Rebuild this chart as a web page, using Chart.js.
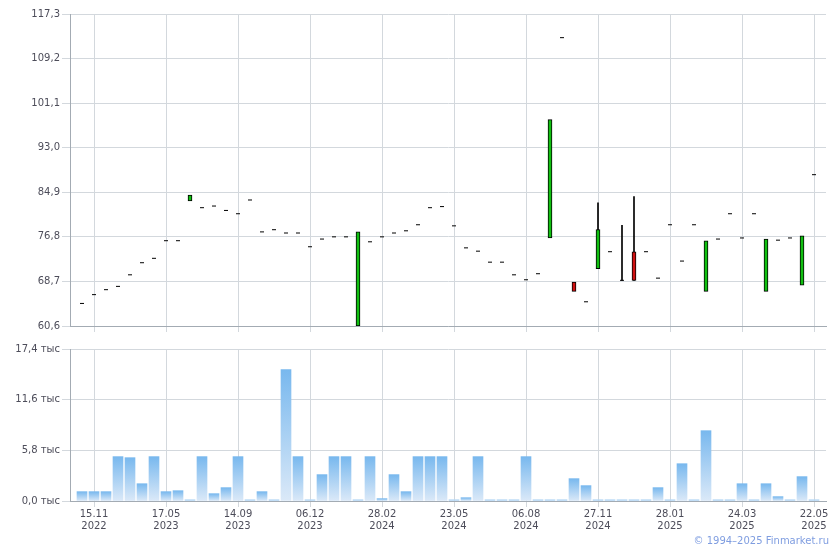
<!DOCTYPE html>
<html>
<head>
<meta charset="utf-8">
<script src="https://cdn.jsdelivr.net/npm/chart.js@4.4.1/dist/chart.umd.min.js"></script>
<style>
  body { margin: 0; background: #fff; }
  #wrap { position: relative; width: 840px; height: 550px; }
  #price { position: absolute; left: 0; top: 0; }
  #vol { position: absolute; left: 0; top: 340px; }
  #copy { position: absolute; right: 11px; top: 535px; font: 10px "DejaVu Sans", sans-serif; color: #7f9de0; }
</style>
</head>
<body>
<div id="wrap">
  <canvas id="price" width="840" height="340"></canvas>
  <canvas id="vol" width="840" height="210"></canvas>
  <div id="copy">© 1994–2025 Finmarket.ru</div>
</div>
<script>
// one entry per period, index 0..61
const opens  = [64.7, 66.3, 67.2, 67.8, 69.9, 72.1, 72.9, 76.1, 76.1, 83.35,
                82.1, 82.4, 81.6, 81.0, 83.5, 77.7, 78.1, 77.5, 77.5, 75.0,
                76.4, 76.8, 76.8, 60.6, 75.9, 76.8, 77.5, 77.9, 79.0, 82.1,
                82.3, 78.8, 74.8, 74.2, 72.2, 72.2, 69.9, 69.0, 70.1, 76.6,
                113.0, 68.6, 65.0, 71.0, 74.1, 68.9, 74.1, 74.1, 69.3, 79.0,
                72.4, 79.0, 66.9, 76.4, 81.0, 76.6, 81.0, 66.9, 76.2, 76.6,
                68.0, 88.1];
const highs  = [64.7, 66.3, 67.2, 67.8, 69.9, 72.1, 72.9, 76.1, 76.1, 84.4,
                82.1, 82.4, 81.6, 81.0, 83.5, 77.7, 78.1, 77.5, 77.5, 75.0,
                76.4, 76.8, 76.8, 77.7, 75.9, 76.8, 77.5, 77.9, 79.0, 82.1,
                82.3, 78.8, 74.8, 74.2, 72.2, 72.2, 69.9, 69.0, 70.1, 98.1,
                113.0, 68.6, 65.0, 83.0, 74.1, 78.9, 84.1, 74.1, 69.3, 79.0,
                72.4, 79.0, 76.1, 76.4, 81.0, 76.6, 81.0, 76.4, 76.2, 76.6,
                77.0, 88.1];
const lows   = [64.7, 66.3, 67.2, 67.8, 69.9, 72.1, 72.9, 76.1, 76.1, 83.35,
                82.1, 82.4, 81.6, 81.0, 83.5, 77.7, 78.1, 77.5, 77.5, 75.0,
                76.4, 76.8, 76.8, 60.6, 75.9, 76.8, 77.5, 77.9, 79.0, 82.1,
                82.3, 78.8, 74.8, 74.2, 72.2, 72.2, 69.9, 69.0, 70.1, 76.6,
                113.0, 66.9, 65.0, 71.0, 74.1, 68.9, 68.9, 74.1, 69.3, 79.0,
                72.4, 79.0, 66.9, 76.4, 81.0, 76.6, 81.0, 66.9, 76.2, 76.6,
                68.0, 88.1];
const closes = [64.7, 66.3, 67.2, 67.8, 69.9, 72.1, 72.9, 76.1, 76.1, 84.4,
                82.1, 82.4, 81.6, 81.0, 83.5, 77.7, 78.1, 77.5, 77.5, 75.0,
                76.4, 76.8, 76.8, 77.7, 75.9, 76.8, 77.5, 77.9, 79.0, 82.1,
                82.3, 78.8, 74.8, 74.2, 72.2, 72.2, 69.9, 69.0, 70.1, 98.1,
                113.0, 66.9, 65.0, 78.1, 74.1, 68.9, 68.9, 74.1, 69.3, 79.0,
                72.4, 79.0, 76.1, 76.4, 81.0, 76.6, 81.0, 76.4, 76.2, 76.6,
                77.0, 88.1];
// volume, thousands
const volumes = [1.07, 1.07, 1.07, 5.08, 4.96, 1.98, 5.08, 1.07, 1.18, 0.15,
                 5.08, 0.84, 1.53, 5.08, 0.15, 1.07, 0.15, 15.04, 5.08, 0.15,
                 3.02, 5.08, 5.08, 0.15, 5.08, 0.27, 3.02, 1.07, 5.08, 5.08,
                 5.08, 0.15, 0.38, 5.08, 0.15, 0.15, 0.15, 5.08, 0.15, 0.15,
                 0.15, 2.56, 1.76, 0.15, 0.15, 0.15, 0.15, 0.15, 1.53, 0.15,
                 4.27, 0.15, 8.05, 0.15, 0.15, 1.98, 0.15, 1.98, 0.5, 0.15,
                 2.79, 0.15];
const tickIdx = [1, 7, 13, 19, 25, 31, 37, 43, 49, 55, 61];
const tickDates = ['15.11.2022', '17.05.2023', '14.09.2023', '06.12.2023', '28.02.2024', '23.05.2024',
                   '06.08.2024', '27.11.2024', '28.01.2025', '24.03.2025', '22.05.2025'];
const priceTicks = [60.6, 68.7, 76.8, 84.9, 93.0, 101.1, 109.2, 117.3];
const volTicks = [0, 5.8, 11.6, 17.4];

const gridColor = '#d3d8dd';
const axisColor = '#a3abb3';
const textColor = '#4d4d5a';
const font = { family: 'DejaVu Sans', size: 10 };
const comma = v => v.toFixed(1).replace('.', ',');

const bodies = [], wicks = [], dashes = [];
opens.forEach((o, i) => {
  const c = closes[i];
  if (o !== c) bodies.push({ x: i, y: [o, c] });
  else dashes.push({ x: i, y: c });
  if (highs[i] > Math.max(o, c) || lows[i] < Math.min(o, c)) wicks.push({ x: i, y: [lows[i], highs[i]] });
});

const xBase = {
  type: 'linear', min: -1, max: 62, offset: false,
  afterBuildTicks: s => { s.ticks = tickIdx.map(v => ({ value: v })); },
  grid: { color: gridColor, tickLength: 6, offset: false },
  border: { color: axisColor },
};

new Chart(document.getElementById('price'), {
  type: 'bar',
  data: {
    datasets: [
      { data: bodies, grouped: false, barThickness: 4, borderWidth: 1, borderColor: '#000', borderSkipped: false,
        backgroundColor: ctx => (ctx.raw && ctx.raw.y[1] > ctx.raw.y[0]) ? '#11c011' : '#d01010' },
      { data: wicks, grouped: false, barThickness: 1, backgroundColor: '#000' },
      { type: 'scatter', data: dashes, pointStyle: 'line', radius: 2, borderWidth: 1, borderColor: '#000' }
    ]
  },
  options: {
    responsive: false,
    animation: false,
    layout: { padding: { left: 0, right: 14, top: 14, bottom: 0 } },
    plugins: { legend: { display: false }, tooltip: { enabled: false } },
    scales: {
      x: Object.assign({}, xBase, {
        afterFit: s => { s.height = 14; },
        ticks: { autoSkip: false, callback: () => '', font }
      }),
      y: {
        min: 60.6, max: 117.3,
        afterBuildTicks: s => { s.ticks = priceTicks.map(v => ({ value: v })); },
        afterFit: s => { s.width = 70; },
        grid: { color: gridColor, tickLength: 8 },
        border: { color: axisColor },
        ticks: { callback: v => comma(v), font, color: textColor, padding: 2 }
      }
    }
  }
});

function volGradient(ctx) {
  const chart = ctx.chart;
  if (!chart.chartArea || ctx.type !== 'data') return '#a8d0f4';
  const ys = chart.scales.y;
  const top = ys.getPixelForValue(ctx.raw.y), bottom = ys.getPixelForValue(0);
  if (!isFinite(top) || bottom - top < 2) return '#b4d6f5';
  const g = chart.ctx.createLinearGradient(0, top, 0, bottom);
  g.addColorStop(0, '#78b8ee');
  g.addColorStop(1, '#dbe9f8');
  return g;
}

new Chart(document.getElementById('vol'), {
  type: 'bar',
  data: {
    datasets: [{ data: volumes.map((v, i) => ({ x: i, y: v })), barThickness: 10, backgroundColor: volGradient }]
  },
  options: {
    responsive: false,
    animation: false,
    layout: { padding: { left: 0, right: 14, top: 9, bottom: 0 } },
    plugins: { legend: { display: false }, tooltip: { enabled: false } },
    scales: {
      x: Object.assign({}, xBase, {
        afterFit: s => { s.height = 49; },
        ticks: {
          autoSkip: false, maxRotation: 0, padding: 1, color: textColor,
          font: Object.assign({ lineHeight: 1.2 }, font),
          callback: v => {
            const k = tickIdx.indexOf(v);
            if (k < 0) return '';
            const d = tickDates[k];
            return [d.slice(0, 5), d.slice(6)];
          }
        }
      }),
      y: {
        min: 0, max: 17.4,
        afterBuildTicks: s => { s.ticks = volTicks.map(v => ({ value: v })); },
        afterFit: s => { s.width = 70; },
        grid: { color: gridColor, tickLength: 8 },
        border: { color: axisColor },
        ticks: { callback: v => comma(v) + ' тыс', font, color: textColor, padding: 2 }
      }
    }
  }
});
</script>
</body>
</html>
